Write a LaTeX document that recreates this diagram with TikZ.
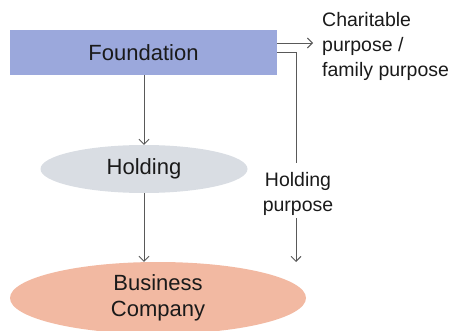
\documentclass[tikz,border=0pt]{standalone}
\usepackage{fontspec}
\setmainfont{Liberation Sans}
\usetikzlibrary{shapes.geometric,arrows.meta}
\definecolor{fndblue}{HTML}{9BA8DC}
\definecolor{holdgray}{HTML}{D9DDE3}
\definecolor{bizsalmon}{HTML}{F2B9A2}
\definecolor{linegray}{HTML}{595959}
\definecolor{txt}{HTML}{1A1A1A}
\begin{document}
\begin{tikzpicture}[x=1pt,y=1pt,
  conn/.style={draw=linegray,line width=0.9pt,-{Straight Barb[length=5pt,width=10pt]}},
  plain/.style={draw=linegray,line width=0.9pt},
  boxtext/.style={font=\fontsize{22}{26}\selectfont,text=txt},
  labtext/.style={font=\fontsize{19.5}{25}\selectfont,text=txt}]
\useasboundingbox (0,0) rectangle (461,330);
\node[boxtext,draw=none,fill=fndblue,minimum width=267pt,minimum height=45pt,inner sep=0pt] (fnd) at (143.5,277.5) {Foundation};
\node[boxtext,ellipse,fill=holdgray,minimum width=207pt,minimum height=48pt,inner sep=0pt] (hold) at (144,161) {Holding};
\node[boxtext,ellipse,fill=bizsalmon,minimum width=296pt,minimum height=72pt,inner sep=0pt,align=center] (biz) at (158,32) {Business\\Company};
\node[labtext,anchor=west,align=left,inner sep=0pt] (charit) at (322,284) {Charitable\\purpose /\\family purpose};
\node[labtext,align=center,inner sep=0pt] (hpurp) at (298,136) {Holding\\purpose};
\coordinate (a1s) at (277,287);
\coordinate (a1e) at (313,287);
\coordinate (a2s) at (277,278);
\coordinate (a2c) at (296,278);
\coordinate (a2m) at (296,167);
\coordinate (a2r) at (296,112);
\coordinate (a2e) at (296,68);
\draw[conn] (a1s) -- (a1e);
\draw[plain] (a2s) -- (a2c) -- (a2m);
\draw[conn] (a2r) -- (a2e);
\draw[conn] (fnd.south -| hold.north) -- (hold.north);
\draw[conn] (hold.south) -- (hold.south |- biz.north);
\end{tikzpicture}
\end{document}
